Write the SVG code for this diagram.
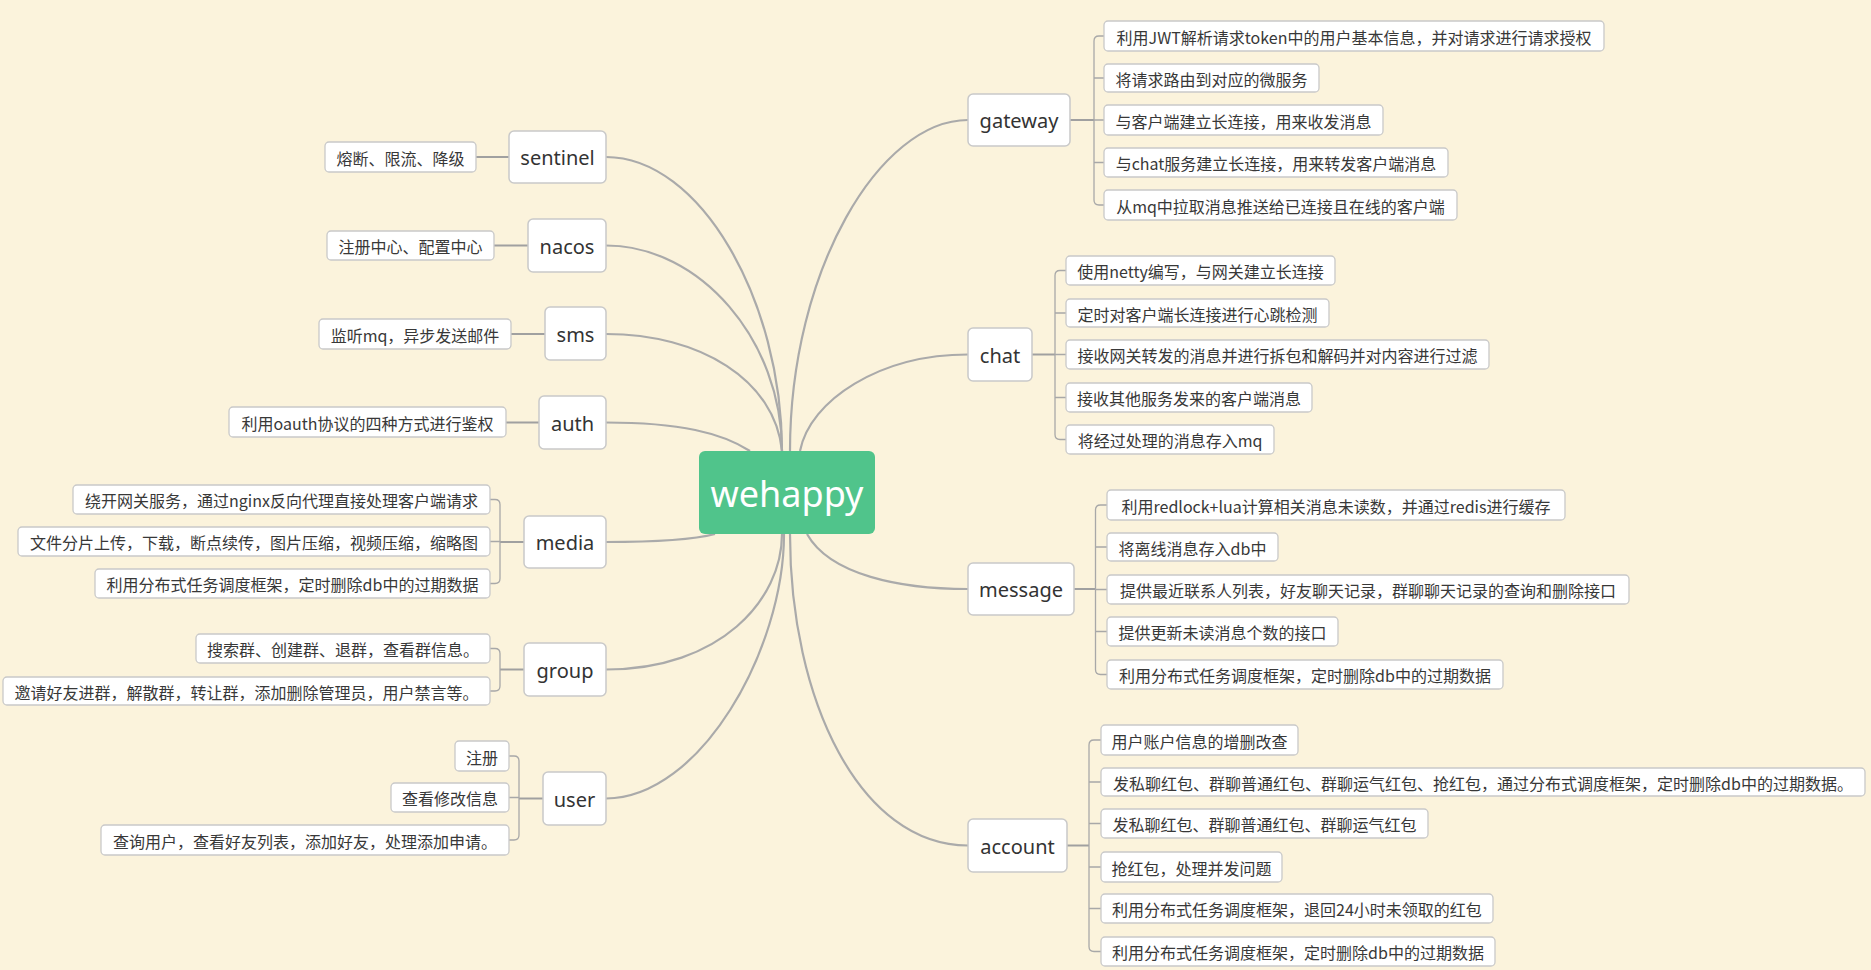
<svg xmlns="http://www.w3.org/2000/svg" width="1871" height="970" viewBox="0 0 1871 970">
<style>
.bg{fill:#FBF3DC}
.node rect{fill:#fff;stroke:#c9c9c9;stroke-width:1.5}
.node text{font-family:"Noto Sans","Noto Sans CJK SC",sans-serif;font-size:20px;fill:#333;text-anchor:middle;dominant-baseline:central}
.leaf rect{fill:#fff;stroke:#c9c9c9;stroke-width:1.3}
.leaf text{font-family:"Noto Sans CJK SC","Noto Sans",sans-serif;font-size:16px;fill:#383838;text-anchor:middle;dominant-baseline:central}
.curve{fill:none;stroke:#aaa;stroke-width:2.2}
.stub{fill:none;stroke:#a0a0a0;stroke-width:2}
.br{fill:none;stroke:#a8a8a8;stroke-width:1.3}
#center rect{fill:#50C48B}
#center text{font-family:"Noto Sans",sans-serif;font-size:36px;fill:#fff;text-anchor:middle;dominant-baseline:central}
</style>
<rect class="bg" x="0" y="0" width="1871" height="970"/>

<g id="connectors">
<path class="curve" d="M606,157 C700,157 782,300 782,451"/>
<path class="curve" d="M606,245.5 C700,245.5 782,340 782,451"/>
<path class="curve" d="M606,334 C700,334 775,380 782,451"/>
<path class="curve" d="M606,422.5 C680,422.5 722,433 750,451"/>
<path class="curve" d="M606,542 C660,542 692,540 715,534"/>
<path class="curve" d="M606,669.5 C720,669.5 782,600 782,534"/>
<path class="curve" d="M606,798.5 C700,798.5 784,650 784,534"/>
<path class="curve" d="M968,120 C880,120 790,270 790,451"/>
<path class="curve" d="M968,354.5 C880,354.5 810,400 800,451"/>
<path class="curve" d="M968,589 C900,589 830,575 807,534"/>
<path class="curve" d="M968,845.5 C860,845.5 790,700 790,534"/>

<path class="stub" d="M476,157 H509"/>
<path class="stub" d="M494,245.5 H528"/>
<path class="stub" d="M511,334 H545"/>
<path class="stub" d="M506,422.5 H539"/>

<path class="stub" d="M1070,120 H1094"/>
<path class="br" d="M1104,36 H1099 Q1094,36 1094,41 V200 Q1094,205 1099,205 H1104 M1094,78 H1104 M1094,120 H1104 M1094,162.5 H1104"/>

<path class="stub" d="M1032,354.5 H1055"/>
<path class="br" d="M1066,270.5 H1060 Q1055,270.5 1055,275.5 V434.5 Q1055,439.5 1060,439.5 H1066 M1055,313 H1066 M1055,354.5 H1066 M1055,397.5 H1066"/>

<path class="stub" d="M1074,589 H1095.5"/>
<path class="br" d="M1107,505 H1100.5 Q1095.5,505 1095.5,510 V669.5 Q1095.5,674.5 1100.5,674.5 H1107 M1095.5,547 H1107 M1095.5,589.5 H1107 M1095.5,631.5 H1107"/>

<path class="stub" d="M1067,845.5 H1089"/>
<path class="br" d="M1101,740 H1094 Q1089,740 1089,745 V946.5 Q1089,951.5 1094,951.5 H1101 M1089,782 H1101 M1089,823.5 H1101 M1089,867 H1101 M1089,908.5 H1101"/>

<path class="stub" d="M524,542 H500"/>
<path class="br" d="M490,499.5 H495 Q500,499.5 500,504.5 V578.5 Q500,583.5 495,583.5 H490 M500,541.5 H490"/>

<path class="stub" d="M524,669.5 H500"/>
<path class="br" d="M490,648.5 H495 Q500,648.5 500,653.5 V686 Q500,691 495,691 H490"/>

<path class="stub" d="M543,798.5 H519"/>
<path class="br" d="M509,756 H514 Q519,756 519,761 V835 Q519,840 514,840 H509 M519,797.5 H509"/>
</g>

<g id="center"><rect x="699" y="451" width="176" height="83" rx="6"/><text x="787" y="493">wehappy</text></g>

<g id="n-sentinel" class="node"><rect x="509" y="131" width="97" height="52" rx="5"/><text x="557.5" y="157.5">sentinel</text></g>
<g id="n-nacos" class="node"><rect x="528" y="219" width="78" height="53" rx="5"/><text x="567" y="246">nacos</text></g>
<g id="n-sms" class="node"><rect x="545" y="307" width="61" height="53" rx="5"/><text x="575.5" y="334">sms</text></g>
<g id="n-auth" class="node"><rect x="539" y="396" width="67" height="53" rx="5"/><text x="572.5" y="423">auth</text></g>
<g id="n-media" class="node"><rect x="524" y="516" width="82" height="52" rx="5"/><text x="565" y="542.5">media</text></g>
<g id="n-group" class="node"><rect x="524" y="643" width="82" height="53" rx="5"/><text x="565" y="670">group</text></g>
<g id="n-user" class="node"><rect x="543" y="772" width="63" height="53" rx="5"/><text x="574.5" y="799">user</text></g>
<g id="n-gateway" class="node"><rect x="968" y="94" width="102" height="52" rx="5"/><text x="1019" y="120.5">gateway</text></g>
<g id="n-chat" class="node"><rect x="968" y="328" width="64" height="53" rx="5"/><text x="1000" y="355">chat</text></g>
<g id="n-message" class="node"><rect x="968" y="563" width="106" height="52" rx="5"/><text x="1021" y="589.5">message</text></g>
<g id="n-account" class="node"><rect x="968" y="819" width="99" height="53" rx="5"/><text x="1017.5" y="846">account</text></g>

<g id="l-sentinel-1" class="leaf"><rect x="325" y="142" width="151" height="30" rx="4"/><text x="400.5" y="157.5">熔断、限流、降级</text></g>
<g id="l-nacos-1" class="leaf"><rect x="327" y="231" width="167" height="29" rx="4"/><text x="410.5" y="246">注册中心、配置中心</text></g>
<g id="l-sms-1" class="leaf"><rect x="319" y="319" width="192" height="30" rx="4"/><text x="415" y="334.5">监听mq，异步发送邮件</text></g>
<g id="l-auth-1" class="leaf"><rect x="229" y="407" width="277" height="30" rx="4"/><text x="367.5" y="422.5">利用oauth协议的四种方式进行鉴权</text></g>

<g id="l-media-1" class="leaf"><rect x="73" y="485" width="417" height="29" rx="4"/><text x="281.5" y="500">绕开网关服务，通过nginx反向代理直接处理客户端请求</text></g>
<g id="l-media-2" class="leaf"><rect x="18" y="527" width="472" height="29" rx="4"/><text x="254" y="542">文件分片上传，下载，断点续传，图片压缩，视频压缩，缩略图</text></g>
<g id="l-media-3" class="leaf"><rect x="95" y="569" width="395" height="29" rx="4"/><text x="292.5" y="584">利用分布式任务调度框架，定时删除db中的过期数据</text></g>

<g id="l-group-1" class="leaf"><rect x="196" y="634" width="294" height="29" rx="4"/><text x="343" y="649">搜索群、创建群、退群，查看群信息。</text></g>
<g id="l-group-2" class="leaf"><rect x="3" y="677" width="487" height="28" rx="4"/><text x="246.5" y="691.5">邀请好友进群，解散群，转让群，添加删除管理员，用户禁言等。</text></g>

<g id="l-user-1" class="leaf"><rect x="455" y="741" width="54" height="30" rx="4"/><text x="482" y="756.5">注册</text></g>
<g id="l-user-2" class="leaf"><rect x="391" y="783" width="118" height="29" rx="4"/><text x="450" y="798">查看修改信息</text></g>
<g id="l-user-3" class="leaf"><rect x="101" y="825" width="408" height="30" rx="4"/><text x="305" y="840.5">查询用户，查看好友列表，添加好友，处理添加申请。</text></g>

<g id="l-gateway-1" class="leaf"><rect x="1104" y="21" width="500" height="30" rx="4"/><text x="1354" y="36.5">利用JWT解析请求token中的用户基本信息，并对请求进行请求授权</text></g>
<g id="l-gateway-2" class="leaf"><rect x="1104" y="64" width="215" height="28" rx="4"/><text x="1211.5" y="78.5">将请求路由到对应的微服务</text></g>
<g id="l-gateway-3" class="leaf"><rect x="1104" y="105" width="279" height="30" rx="4"/><text x="1243.5" y="120.5">与客户端建立长连接，用来收发消息</text></g>
<g id="l-gateway-4" class="leaf"><rect x="1104" y="148" width="344" height="29" rx="4"/><text x="1276" y="163">与chat服务建立长连接，用来转发客户端消息</text></g>
<g id="l-gateway-5" class="leaf"><rect x="1104" y="190" width="353" height="30" rx="4"/><text x="1280.5" y="205.5">从mq中拉取消息推送给已连接且在线的客户端</text></g>

<g id="l-chat-1" class="leaf"><rect x="1066" y="256" width="269" height="29" rx="4"/><text x="1200.5" y="271">使用netty编写，与网关建立长连接</text></g>
<g id="l-chat-2" class="leaf"><rect x="1066" y="299" width="263" height="28" rx="4"/><text x="1197.5" y="313.5">定时对客户端长连接进行心跳检测</text></g>
<g id="l-chat-3" class="leaf"><rect x="1066" y="340" width="423" height="29" rx="4"/><text x="1277.5" y="355">接收网关转发的消息并进行拆包和解码并对内容进行过滤</text></g>
<g id="l-chat-4" class="leaf"><rect x="1066" y="383" width="246" height="29" rx="4"/><text x="1189" y="398">接收其他服务发来的客户端消息</text></g>
<g id="l-chat-5" class="leaf"><rect x="1066" y="425" width="208" height="29" rx="4"/><text x="1170" y="440">将经过处理的消息存入mq</text></g>

<g id="l-message-1" class="leaf"><rect x="1107" y="490" width="458" height="30" rx="4"/><text x="1336" y="505.5">利用redlock+lua计算相关消息未读数，并通过redis进行缓存</text></g>
<g id="l-message-2" class="leaf"><rect x="1107" y="533" width="171" height="28" rx="4"/><text x="1192.5" y="547.5">将离线消息存入db中</text></g>
<g id="l-message-3" class="leaf"><rect x="1107" y="575" width="522" height="29" rx="4"/><text x="1368" y="590">提供最近联系人列表，好友聊天记录，群聊聊天记录的查询和删除接口</text></g>
<g id="l-message-4" class="leaf"><rect x="1107" y="617" width="231" height="29" rx="4"/><text x="1222.5" y="632">提供更新未读消息个数的接口</text></g>
<g id="l-message-5" class="leaf"><rect x="1107" y="660" width="396" height="29" rx="4"/><text x="1305" y="675">利用分布式任务调度框架，定时删除db中的过期数据</text></g>

<g id="l-account-1" class="leaf"><rect x="1101" y="725" width="197" height="30" rx="4"/><text x="1199.5" y="740.5">用户账户信息的增删改查</text></g>
<g id="l-account-2" class="leaf"><rect x="1101" y="768" width="764" height="28" rx="4"/><text x="1483" y="782.5">发私聊红包、群聊普通红包、群聊运气红包、抢红包，通过分布式调度框架，定时删除db中的过期数据。</text></g>
<g id="l-account-3" class="leaf"><rect x="1101" y="809" width="327" height="29" rx="4"/><text x="1264.5" y="824">发私聊红包、群聊普通红包、群聊运气红包</text></g>
<g id="l-account-4" class="leaf"><rect x="1101" y="852" width="181" height="30" rx="4"/><text x="1191.5" y="867.5">抢红包，处理并发问题</text></g>
<g id="l-account-5" class="leaf"><rect x="1101" y="894" width="392" height="29" rx="4"/><text x="1297" y="909">利用分布式任务调度框架，退回24小时未领取的红包</text></g>
<g id="l-account-6" class="leaf"><rect x="1101" y="937" width="394" height="29" rx="4"/><text x="1298" y="952">利用分布式任务调度框架，定时删除db中的过期数据</text></g>
</svg>
